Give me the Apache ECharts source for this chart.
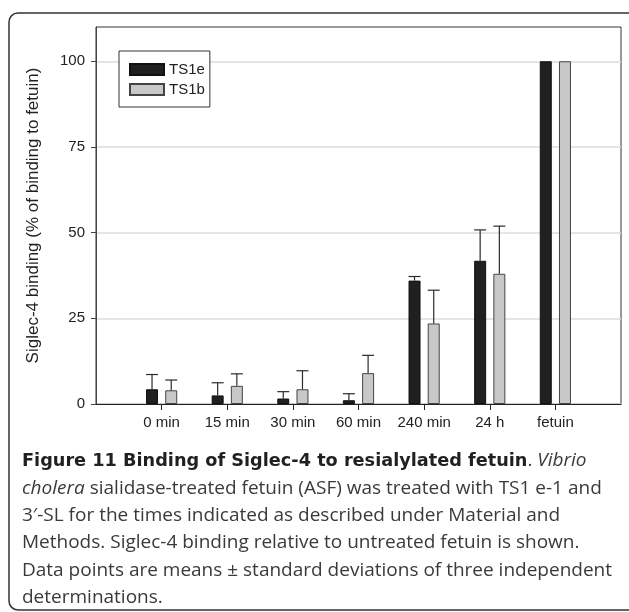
<!DOCTYPE html>
<html>
<head>
<meta charset="utf-8">
<script src="https://cdn.jsdelivr.net/npm/echarts@6/dist/echarts.min.js"></script>
<style>
html, body { margin: 0; padding: 0; background: #fff; }
#chart { width: 629px; height: 612px; }
</style>
</head>
<body>
<div id="chart"></div>
<script>
// time points, TS1e / TS1b binding (% of fetuin) and their SDs
const categories = ['0 min', '15 min', '30 min', '60 min', '240 min', '24 h', 'fetuin'];
const ts1eMean = [4.3, 2.5, 1.6, 1.1, 36.0, 41.8, 100];
const ts1eSd   = [4.3, 3.7, 2.0, 1.9, 1.2, 9.0, 0];
const ts1bMean = [4.0, 5.3, 4.3, 9.0, 23.5, 38.0, 100];
const ts1bSd   = [3.0, 3.5, 5.4, 5.2, 9.7, 13.9, 0];
const yTicks = [0, 25, 50, 75, 100];

// empty slot on each side so the first/last category sits one step in
const axisCats = [''].concat(categories, ['']);

const barPairs = (arr) => arr.map((v, i) => [i + 1, v]);
const errTriples = (m, s) => m.map((v, i) => [i + 1, v, s[i]]);

const errRender = (offset) => (params, api) => {
    const sd = api.value(2);
    if (!sd) return;
    const p0 = api.coord([api.value(0), api.value(1)]);
    const p1 = api.coord([api.value(0), api.value(1) + sd]);
    const cx = p0[0] + offset;
    const st = { stroke: '#2b2b2b', lineWidth: 1.2 };
    return {
        type: 'group',
        children: [
            { type: 'line', shape: { x1: cx, y1: p0[1], x2: cx, y2: p1[1] }, style: st },
            { type: 'line', shape: { x1: cx - 6, y1: p1[1], x2: cx + 6, y2: p1[1] }, style: st }
        ]
    };
};

const capFont = '"Open Sans", sans-serif';
const capLines = [
    [{ t: 'Figure 11 Binding of Siglec-4 to resialylated fetuin', s: 'b' }, { t: '. ', s: 'n' }, { t: 'Vibrio', s: 'i' }],
    [{ t: 'cholera', s: 'i' }, { t: ' sialidase-treated fetuin (ASF) was treated with TS1 e-1 and', s: 'n' }],
    [{ t: '3\u2032-SL for the times indicated as described under Material and', s: 'n' }],
    [{ t: 'Methods. Siglec-4 binding relative to untreated fetuin is shown.', s: 'n' }],
    [{ t: 'Data points are means \u00b1 standard deviations of three independent', s: 'n' }],
    [{ t: 'determinations.', s: 'n' }]
];

const captionGraphics = capLines.map((parts, k) => ({
    type: 'text',
    x: 22,
    y: 461 + k * 27.3,
    style: {
        text: parts.map(p => '{' + p.s + '|' + p.t + '}').join(''),
        verticalAlign: 'middle',
        rich: {
            b: { fontFamily: '"DejaVu Sans", sans-serif', fontSize: 17.7, fontWeight: 'bold', fill: '#231f20' },
            n: { fontFamily: capFont, fontSize: 19, fill: '#3a3a3a' },
            i: { fontFamily: capFont, fontSize: 19, fontStyle: 'italic', fill: '#3a3a3a' }
        }
    }
}));

const chart = echarts.init(document.getElementById('chart'));

chart.setOption({
    animation: false,
    backgroundColor: '#fff',
    textStyle: { fontFamily: 'Liberation Sans, Arial, sans-serif' },
    grid: {
        left: 96, right: 8, top: 27, bottom: 208,
        show: true, borderColor: '#333', borderWidth: 1
    },
    legend: {
        data: ['TS1e', 'TS1b'],
        orient: 'vertical',
        left: 119, top: 51,
        padding: [11, 5, 10, 10],
        icon: 'rect',
        itemWidth: 34, itemHeight: 11, itemGap: 5,
        backgroundColor: '#fff',
        borderColor: '#333', borderWidth: 1,
        textStyle: { fontSize: 15, color: '#222' }
    },
    xAxis: {
        type: 'category',
        data: axisCats,
        boundaryGap: false,
        axisLine: { lineStyle: { color: '#222', width: 1.2 } },
        axisTick: {
            length: 6, lineStyle: { color: '#222' },
            interval: (i, v) => v !== ''
        },
        axisLabel: { interval: 0, fontSize: 15, color: '#222', margin: 11 },
        splitLine: { show: false }
    },
    yAxis: {
        type: 'value',
        min: 0, max: 110, interval: 25,
        name: 'Siglec-4 binding (% of binding to fetuin)',
        nameLocation: 'middle',
        nameGap: 54,
        nameTextStyle: { fontSize: 17, color: '#222' },
        axisLine: { show: true, lineStyle: { color: '#444' } },
        axisTick: { show: true, length: 5, customValues: yTicks, lineStyle: { color: '#444' } },
        axisLabel: { customValues: yTicks, fontSize: 15, color: '#222', margin: 11 },
        splitLine: { show: true, lineStyle: { color: '#dcdcdc', width: 1.5 } }
    },
    series: [
        {
            name: 'TS1e', type: 'bar',
            data: barPairs(ts1eMean),
            barWidth: 12, barGap: '60%',
            itemStyle: { color: '#1f2022', borderColor: '#111', borderWidth: 1 }
        },
        {
            name: 'TS1b', type: 'bar',
            data: barPairs(ts1bMean),
            barWidth: 12, barGap: '60%',
            itemStyle: { color: '#c7c8ca', borderColor: '#444', borderWidth: 1 }
        },
        {
            type: 'custom', z: 5, silent: true,
            renderItem: errRender(-9.6),
            data: errTriples(ts1eMean, ts1eSd)
        },
        {
            type: 'custom', z: 5, silent: true,
            renderItem: errRender(9.6),
            data: errTriples(ts1bMean, ts1bSd)
        }
    ],
    graphic: [
        {
            type: 'rect',
            shape: { x: 9, y: 13, width: 640, height: 597, r: 9 },
            style: { fill: 'none', stroke: '#333', lineWidth: 1.5 },
            z: -1
        }
    ].concat(captionGraphics)
});
</script>
</body>
</html>
